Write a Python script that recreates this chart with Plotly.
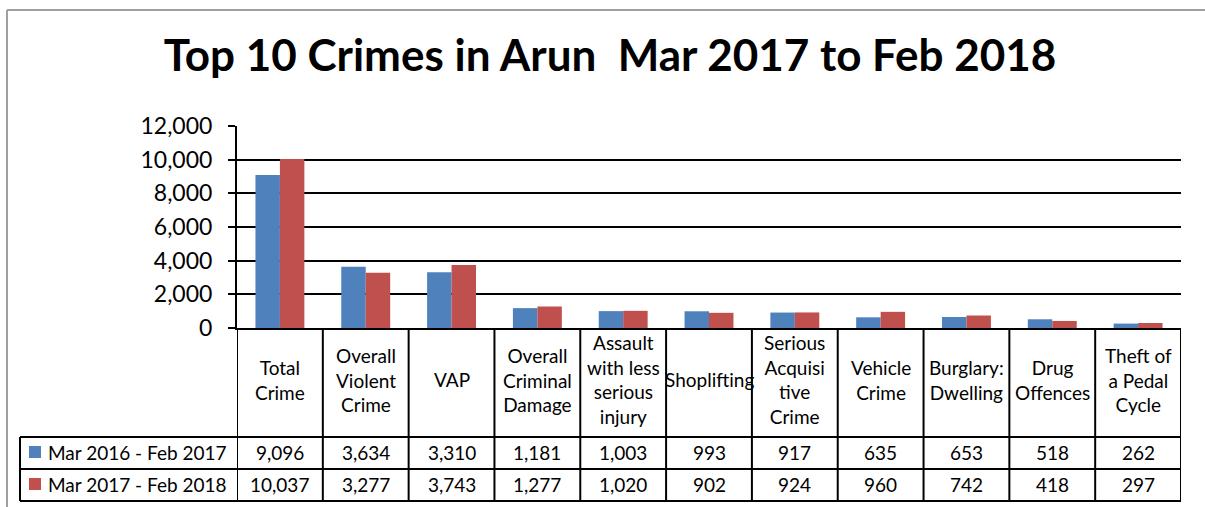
import plotly.graph_objects as go

categories = ["Total Crime", "Overall Violent Crime", "VAP", "Overall Criminal Damage",
              "Assault with less serious injury", "Shoplifting", "Serious Acquisitive Crime",
              "Vehicle Crime", "Burglary: Dwelling", "Drug Offences", "Theft of a Pedal Cycle"]
category_labels = ["Total<br>Crime", "Overall<br>Violent<br>Crime", "VAP", "Overall<br>Criminal<br>Damage",
                   "Assault<br>with less<br>serious<br>injury", "Shoplifting", "Serious<br>Acquisi<br>tive<br>Crime",
                   "Vehicle<br>Crime", "Burglary:<br>Dwelling", "Drug<br>Offences", "Theft of<br>a Pedal<br>Cycle"]
series_names = ["Mar 2016 - Feb 2017", "Mar 2017 - Feb 2018"]
values_2016_17 = [9096, 3634, 3310, 1181, 1003, 993, 917, 635, 653, 518, 262]
values_2017_18 = [10037, 3277, 3743, 1277, 1020, 902, 924, 960, 742, 418, 297]
colors = ["#4F81BD", "#C0504D"]
title_text = "Top 10 Crimes in Arun\u00a0 Mar 2017 to Feb 2018"

W, H = 1205, 507
L, R, T, B = 237, 1181, 126, 328
FONT = "Lato"


def px_x(px):
    return (px - L) / (R - L)


def px_y(py):
    return (B - py) / (B - T)


fig = go.Figure()
for name, vals, col in zip(series_names, [values_2016_17, values_2017_18], colors):
    fig.add_trace(go.Bar(x=categories, y=vals, name=name, marker=dict(color=col, line=dict(width=0)),
                         showlegend=False))

shapes = []
annotations = []
line = dict(color="black", width=2)

# outer chart border
shapes.append(dict(type="line", xref="paper", yref="paper", x0=px_x(7), x1=px_x(1210),
                   y0=px_y(10), y1=px_y(10), line=dict(color="#a0a0a0", width=2)))
shapes.append(dict(type="line", xref="paper", yref="paper", x0=px_x(7), x1=px_x(7),
                   y0=px_y(10), y1=px_y(510), line=dict(color="#a0a0a0", width=2)))

# table vertical lines at category boundaries
n = len(categories)
for i in range(n + 1):
    shapes.append(dict(type="line", xref="x", yref="paper", x0=i - 0.5, x1=i - 0.5,
                       y0=px_y(328), y1=px_y(501), line=line))
# legend column left border
shapes.append(dict(type="line", xref="paper", yref="paper", x0=px_x(20), x1=px_x(20),
                   y0=px_y(437), y1=px_y(501), line=line))
# horizontal table lines
for py in [437, 469, 501]:
    shapes.append(dict(type="line", xref="paper", yref="paper", x0=px_x(20), x1=1,
                       y0=px_y(py), y1=px_y(py), line=line))

row_centers = [452, 484]
cat_center = 379.5
tfont = dict(family=FONT, size=19, color="black")

for i, lab in enumerate(category_labels):
    annotations.append(dict(x=categories[i], xref="x", y=px_y(cat_center), yref="paper",
                            text=lab, showarrow=False, font=tfont, xanchor="center", yanchor="middle"))

for r, (name, vals, col) in enumerate(zip(series_names, [values_2016_17, values_2017_18], colors)):
    yc = row_centers[r]
    shapes.append(dict(type="rect", xref="paper", yref="paper", x0=px_x(29), x1=px_x(41),
                       y0=px_y(yc - 6), y1=px_y(yc + 6), fillcolor=col, line=dict(width=0)))
    annotations.append(dict(x=px_x(46), xref="paper", y=px_y(yc), yref="paper", text=name,
                            showarrow=False, font=tfont, xanchor="left", yanchor="middle"))
    for i, v in enumerate(vals):
        annotations.append(dict(x=categories[i], xref="x", y=px_y(yc), yref="paper",
                                text=f"{v:,}", showarrow=False, font=tfont,
                                xanchor="center", yanchor="middle"))

fig.update_layout(
    width=W, height=H,
    margin=dict(l=L, r=W - R, t=T, b=H - B, autoexpand=False),
    paper_bgcolor="white", plot_bgcolor="white",
    title=dict(text=title_text, x=610 / W, xref="container", xanchor="center",
               y=1 - 56 / H, yref="container", yanchor="middle",
               font=dict(family=FONT, size=44, color="black", weight="bold")),
    barmode="group", bargap=0.43, bargroupgap=0,
    xaxis=dict(range=[-0.5, n - 0.5], showticklabels=False, showgrid=False, zeroline=False,
               showline=True, linecolor="black", linewidth=2, ticks=""),
    yaxis=dict(range=[0, 12000], dtick=2000, tickformat=",", showgrid=True, gridcolor="black",
               gridwidth=2, zeroline=False, showline=True, linecolor="black", linewidth=2,
               ticks="outside", ticklen=7, tickwidth=2, tickcolor="black",
               ticklabelstandoff=11,
               tickfont=dict(family=FONT, size=23, color="black")),
    shapes=shapes, annotations=annotations,
)

fig.write_html("out.html", config={"displayModeBar": False},
               post_script="document.body.style.margin='0px';document.body.style.overflow='hidden';")
